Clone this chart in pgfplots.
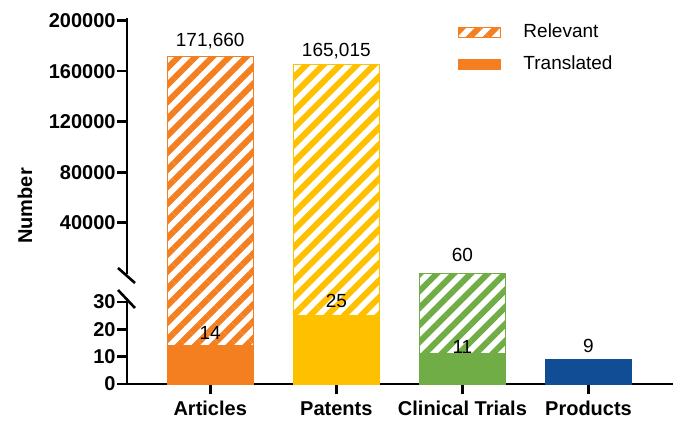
\documentclass[border=0pt]{standalone}
\usepackage{fontspec}
\setmainfont{Liberation Sans}
\usepackage{pgfplots}
\pgfplotsset{compat=1.18}
\usetikzlibrary{patterns.meta}
\definecolor{cOr}{RGB}{244,127,32}
\definecolor{cYe}{RGB}{255,192,0}
\definecolor{cGr}{RGB}{112,173,71}
\definecolor{cBl}{RGB}{16,77,148}
\pgfplotsset{
  rel/.style={draw=#1, line width=0.6pt, pattern={Lines[angle=45,distance=6pt,line width=3pt]}, pattern color=#1},
  tr/.style={draw=#1, fill=#1, line width=0.6pt},
  lbl/.style 2 args={nodes near coords={#1}, every node near coord/.append style={yshift=#2}},
}
\begin{document}
\begin{tikzpicture}
\useasboundingbox (0,0) rectangle (339pt,211pt);
\begin{axis}[
  at={(63.5pt,19pt)}, anchor=south west, scale only axis,
  width=273pt, height=181.65pt,
  clip=false,
  xmin=-0.66, xmax=3.67, ymin=0, ymax=200000,
  y coord trafo/.code={\begingroup\pgfkeys{/pgf/fpu=true,/pgf/fpu/output format=fixed}\pgfmathparse{min(#1,40.6)*2.73+max(#1-40.6,0)*0.0012625}\pgfmathsmuggle\pgfmathresult\endgroup},
  ybar, bar width=43pt, bar shift=0pt,
  axis x line*=bottom, axis y line*=left,
  x axis line style={-, line width=1.3pt},
  y axis line style={draw=none},
  tick align=outside, major tick length=5pt,
  xtick={0,1,2,3}, xticklabels={Articles,Patents,Clinical Trials,Products},
  ytick={0,10,20,30,40000,80000,120000,160000,200000},
  yticklabels={0,10,20,30,40000,80000,120000,160000,200000},
  xtick style={line width=1.3pt, black},
  ytick style={line width=1.3pt, black},
  xticklabel style={font=\bfseries\fontsize{10}{12}\selectfont, anchor=base, inner sep=0pt, yshift=-10.5pt},
  yticklabel style={font=\bfseries\fontsize{10}{12}\selectfont, anchor=east, inner sep=0pt, xshift=-0.5pt},
  ylabel={Number},
  every axis y label/.style={at={(rel axis cs:-0.187,0.49)}, rotate=90, anchor=center, font=\bfseries\fontsize{10}{12}\selectfont},
  every node near coord/.append style={font=\fontsize{9.5}{11}\selectfont, text=black, inner sep=0pt, text depth=0pt, anchor=south},
  legend image code/.code={\draw[#1] (0pt,-2.5pt) rectangle (21pt,2.5pt);},
  legend style={at={(0.606,0.994)}, anchor=north west, draw=none, fill=none, inner sep=0pt,
    font=\fontsize{9.5}{11}\selectfont, row sep=7pt,
    nodes={inner sep=0pt, text height=7pt, text depth=2pt},
    /tikz/every odd column/.append style={column sep=11pt}},
  legend cell align=left,
]
% Relevant
\addplot[rel=cOr, lbl={171{,}660}{4.7pt}] coordinates {(0,171660)};
\addlegendentry{Relevant}
\addplot[tr=cOr, lbl={14}{2.9pt}] coordinates {(0,14)};
\addlegendentry{Translated}
\addplot[rel=cYe, forget plot, lbl={165{,}015}{4.1pt}] coordinates {(1,165015)};
\addplot[tr=cYe, forget plot, lbl={25}{3.7pt}] coordinates {(1,25)};
\addplot[rel=cGr, forget plot, lbl={60}{5.6pt}] coordinates {(2,60)};
\addplot[tr=cGr, forget plot, lbl={11}{-0.3pt}] coordinates {(2,11)};
\addplot[tr=cBl, forget plot, lbl={9}{3pt}] coordinates {(3,9)};
% broken y axis line
\draw[line width=1.3pt] (rel axis cs:0,0) -- (rel axis cs:0,0.237);
\draw[line width=1.3pt] (rel axis cs:0,0.303) -- (rel axis cs:0,1.007);
\draw[line width=1.3pt] ([xshift=-4.5pt]rel axis cs:0,0.3193) -- ([xshift=4pt]rel axis cs:0,0.278);
\draw[line width=1.3pt] ([xshift=-4.5pt]rel axis cs:0,0.2587) -- ([xshift=4pt]rel axis cs:0,0.2092);
\end{axis}
\end{tikzpicture}
\end{document}
